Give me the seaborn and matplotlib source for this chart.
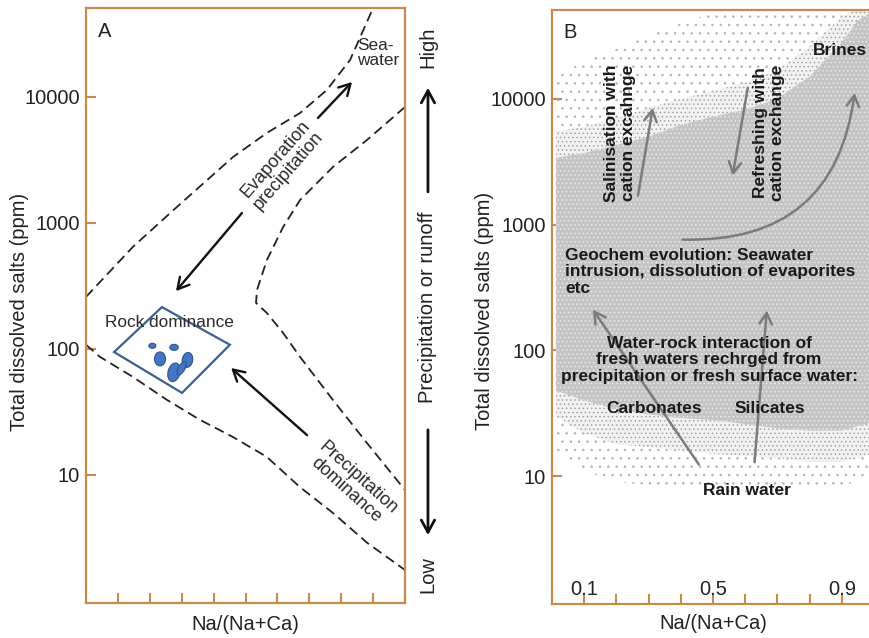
import numpy as np
import pandas as pd
import matplotlib
matplotlib.use("Agg")
import matplotlib.pyplot as plt
import matplotlib.ticker as mticker
from matplotlib.patches import Polygon
from matplotlib.collections import EllipseCollection
import seaborn as sns

# ---------------- data ----------------
# Panel A: Gibbs boundary curves  (x = Na/(Na+Ca), y = TDS ppm)
upper_x = [0.0, 0.147, 0.285, 0.461, 0.567, 0.671, 0.755, 0.828, 0.900]
upper_tds = [259, 646, 1340, 3340, 5180, 7460, 11360, 19700, 50800]
v_x = [1.0, 0.881, 0.774, 0.671, 0.618, 0.567, 0.536, 0.533, 0.567, 0.618,
       0.671, 0.774, 0.881, 1.0]
v_tds = [8330, 4560, 2780, 1520, 929, 508, 294, 232, 193, 134, 86.5, 39.4,
         17.9, 7.6]
lower_x = [0.0, 0.044, 0.147, 0.254, 0.357, 0.461, 0.567, 0.671, 0.774, 0.881, 1.0]
lower_tds = [108, 86.5, 60, 39.4, 27.4, 20, 13.9, 8.0, 5.0, 2.9, 1.76]

# Rock dominance box and samples
box_x = [0.238, 0.451, 0.301, 0.088]
box_tds = [215, 108, 44.8, 94.6]
sample_x = [0.208, 0.276, 0.232, 0.276, 0.318, 0.300]
sample_tds = [106, 103, 83.4, 65.3, 81.8, 70.3]
sample_w = [7, 8.5, 11, 12, 10.5, 6.5]
sample_h = [5, 6, 14, 19, 15, 15]
sample_ang = [0, 0, 0, -15, -10, -30]

# Panel A arrows (start x, start tds, end x, end tds)
arrow_evap_up = (0.727, 6810, 0.834, 13150)
arrow_evap_down = (0.489, 1200, 0.282, 288)
arrow_precip = (0.693, 20.7, 0.455, 70.6)

# Panel B: envelopes of the grey sample cloud
env_x = [0.012, 0.1, 0.2, 0.3, 0.4, 0.5, 0.6, 0.7, 0.8, 0.9, 0.95, 1.0]
dense_hi = [3400, 3700, 4300, 5000, 6200, 7200, 8200, 10000, 15000, 28000, 42000, 50000]
dense_lo = [48, 40, 34, 31, 29, 28, 26, 24, 23, 23, 25, 27]
mid_hi = [5500, 6000, 7000, 8500, 10000, 11500, 13500, 17000, 26000, 45000, 52000, 52000]
mid_lo = [30, 22, 18, 17, 16, 15, 14.5, 14, 13, 13, 14, 15]
sparse_hi = [15000, 20000, 25000, 32000, 40000, 48000, 52000, 52000, 52000, 52000, 52000, 52000]
sparse_lo = [16, 11, 9, 8.5, 8, 7.5, 7.5, 7.5, 8, 8.5, 9, 9.5]

# Panel B arrows
arrow_salin = (0.267, 1700, 0.313, 8490)
arrow_refresh = (0.608, 12230, 0.561, 2450)
arrow_brines = (0.406, 760, 0.940, 11160)
arrow_carb = (0.456, 12.4, 0.127, 211)
arrow_sil = (0.629, 12.9, 0.667, 208)

# Axis ticks
x_ticks = [0.1, 0.2, 0.3, 0.4, 0.5, 0.6, 0.7, 0.8, 0.9]
x_labels_B = ["0.1", "", "", "", "0.5", "", "", "", "0.9"]
y_ticks = [10, 100, 1000, 10000]
y_labels = ["10", "100", "1000", "10000"]
Y_MIN, Y_MAX = 10 ** -0.016, 10 ** 4.706

# ---------------- style ----------------
sns.set_theme(style="ticks")
plt.rcParams["font.family"] = ["Liberation Sans", "DejaVu Sans"]
plt.rcParams["hatch.linewidth"] = 0.6

SPINE = "#c8894d"
TXT = "#2a2a2a"
GREY_ARROW = "#7b7b7b"

fig = plt.figure(figsize=(8.69, 6.38), dpi=100)
axA = fig.add_axes([86 / 869, 35 / 638, 319 / 869, 595 / 638])
axB = fig.add_axes([552 / 869, 34 / 638, 322 / 869, 594 / 638])


def style_axes(ax):
    ax.set_yscale("log")
    ax.set_xlim(0, 1)
    ax.set_ylim(Y_MIN, Y_MAX)
    for s in ax.spines.values():
        s.set_visible(True)
        s.set_color(SPINE)
        s.set_linewidth(1.6)
    ax.set_xticks(x_ticks)
    ax.set_yticks(y_ticks)
    ax.set_yticklabels(y_labels)
    ax.yaxis.set_minor_locator(mticker.NullLocator())
    ax.xaxis.set_minor_locator(mticker.NullLocator())
    ax.tick_params(direction="in", length=7.5, width=1.5, color=SPINE,
                   labelsize=14.5, labelcolor="#222222", pad=4.5,
                   left=True, bottom=True, top=False, right=False)
    ax.set_xlabel("Na/(Na+Ca)", fontsize=14.5, color="#222222")
    ax.set_ylabel("Total dissolved salts (ppm)", fontsize=14.5, color="#222222")


def arrow(ax, a, color, lw, ms=16, head="->, head_length=0.5, head_width=0.28", **kw):
    ax.annotate("", xy=(a[2], a[3]), xytext=(a[0], a[1]),
                arrowprops=dict(arrowstyle=head, lw=lw, color=color,
                                mutation_scale=ms, shrinkA=0, shrinkB=0, **kw))


# ---------------- Panel A ----------------
style_axes(axA)
axA.set_xticklabels([""] * len(x_ticks))

dash = (0, (5.5, 3))
for xs, ys in [(upper_x, upper_tds), (v_x, v_tds), (lower_x, lower_tds)]:
    df = pd.DataFrame({"x": xs, "tds": ys})
    sns.lineplot(data=df, x="x", y="tds", ax=axA, sort=False, estimator=None,
                 color="#222222", lw=1.3, linestyle=dash)

axA.add_patch(Polygon(list(zip(box_x, box_tds)), closed=True, fill=False,
                      edgecolor="#3d5f8e", lw=1.6))
ec = EllipseCollection(sample_w, sample_h, sample_ang, units="dots",
                       offsets=list(zip(sample_x, sample_tds)),
                       offset_transform=axA.transData,
                       facecolors="#4576c0", edgecolors="#2c5595", linewidths=0.8)
axA.add_collection(ec, autolim=False)

for a in (arrow_evap_up, arrow_evap_down, arrow_precip):
    arrow(axA, a, "#111111", 1.7)

axA.text(0.038, 0.976, "A", transform=axA.transAxes, fontsize=14.5,
         color="#222222", ha="left", va="top")
axA.text(0.85, 0.95, "Sea-\nwater", transform=axA.transAxes, fontsize=12.4,
         color=TXT, ha="left", va="top", linespacing=1.0)
axA.text(0.614, 0.736, "Evaporation\nprecipitation", transform=axA.transAxes,
         fontsize=13, color=TXT, ha="center", va="center", rotation=49,
         rotation_mode="anchor", linespacing=1.0)
axA.text(0.834, 0.20, "Precipitation\ndominance", transform=axA.transAxes,
         fontsize=13, color=TXT, ha="center", va="center", rotation=-42,
         rotation_mode="anchor", linespacing=1.0)
axA.text(0.263, 0.464, "Rock dominance", transform=axA.transAxes,
         fontsize=12.4, color=TXT, ha="center", va="baseline")

# Right side scale of panel A
rx = 1.072
axA.text(rx, 0.934, "High", transform=axA.transAxes, fontsize=14.5,
         color="#222222", rotation=90, ha="center", va="center", clip_on=False)
axA.text(rx, 0.497, "Precipitation or runoff", transform=axA.transAxes,
         fontsize=14.5, color="#222222", rotation=90, ha="center", va="center",
         clip_on=False)
axA.text(rx, 0.047, "Low", transform=axA.transAxes, fontsize=14.5,
         color="#222222", rotation=90, ha="center", va="center", clip_on=False)
for y0, y1 in [(0.691, 0.866), (0.291, 0.114)]:
    axA.annotate("", xy=(rx, y1), xytext=(rx, y0), xycoords=axA.transAxes,
                 textcoords=axA.transAxes, annotation_clip=False,
                 arrowprops=dict(arrowstyle="->, head_length=0.55, head_width=0.3",
                                 lw=2.0, color="#111111", mutation_scale=16,
                                 shrinkA=0, shrinkB=0))

axA.yaxis.set_label_coords(-0.179, 0.49)
axA.xaxis.set_label_coords(0.5, -0.02)

# ---------------- Panel B ----------------
style_axes(axB)
axB.set_xticklabels(x_labels_B)
axB.tick_params(axis="x", pad=-17.3)

axB.fill_between(env_x, sparse_lo, sparse_hi, facecolor="none",
                 edgecolor="#b4b4b4", lw=0, hatch="..", zorder=0.5)
axB.fill_between(env_x, mid_lo, mid_hi, facecolor="#f2f2f2",
                 edgecolor="#a2a2a2", lw=0, hatch="....", zorder=0.6)
axB.fill_between(env_x, dense_lo, dense_hi, facecolor="#c4c4c4",
                 edgecolor="#ececec", lw=0, hatch="....", zorder=0.7)

for a in (arrow_salin, arrow_refresh, arrow_carb, arrow_sil):
    arrow(axB, a, GREY_ARROW, 1.8)
arrow(axB, arrow_brines, GREY_ARROW, 1.8, connectionstyle="arc3,rad=0.45")

BTXT = "#1a1a1a"
bkw = dict(transform=axB.transAxes, fontsize=12.5, color=BTXT, fontweight="bold")
axB.text(0.034, 0.978, "B", transform=axB.transAxes, fontsize=14.5,
         color="#222222", ha="left", va="top")
axB.text(0.978, 0.924, "Brines", ha="right", va="baseline", **bkw)
axB.text(0.211, 0.793, "Salinisation with\ncation excahnge", ha="center",
         va="center", rotation=90, linespacing=1.15, **bkw)
axB.text(0.674, 0.793, "Refreshing with\ncation exchange", ha="center",
         va="center", rotation=90, linespacing=1.15, **bkw)
axB.text(0.040, 0.599, "Geochem evolution: Seawater\nintrusion, dissolution of evaporites\netc",
         ha="left", va="top", linespacing=1.1, **bkw)
axB.text(0.488, 0.451,
         "Water-rock interaction of\nfresh waters rechrged from\nprecipitation or fresh surface water:",
         ha="center", va="top", linespacing=1.1, **bkw)
axB.text(0.318, 0.3215, "Carbonates", ha="center", va="baseline", **bkw)
axB.text(0.677, 0.3215, "Silicates", ha="center", va="baseline", **bkw)
axB.text(0.604, 0.1835, "Rain water", ha="center", va="baseline", **bkw)

axB.yaxis.set_label_coords(-0.18, 0.493)
axB.xaxis.set_label_coords(0.5, -0.017)

fig.savefig("out.png", dpi=100)
